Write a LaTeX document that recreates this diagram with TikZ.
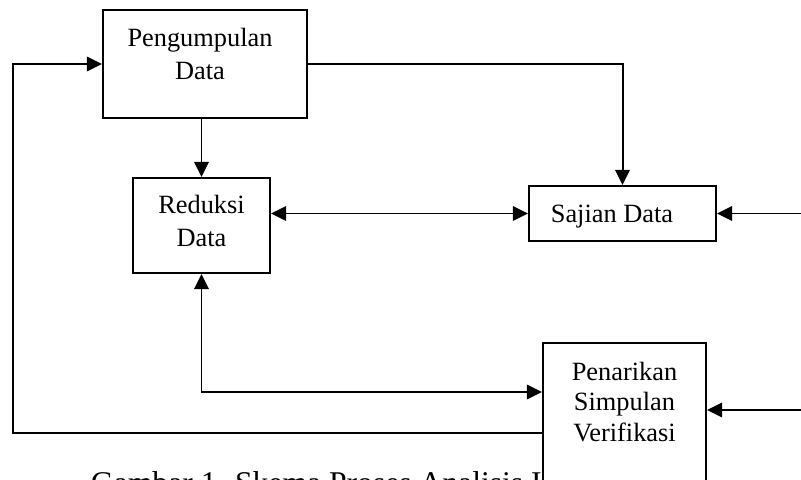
\documentclass[tikz,border=0pt]{standalone}
\usepackage{fontspec}
\setmainfont{Liberation Serif}
\usetikzlibrary{arrows.meta,positioning}

\def\satuan{0.03cm}

\begin{document}
\begin{tikzpicture}[>={Triangle[length=13pt,width=12.5pt]}, x=\satuan, y=-\satuan, line width=1.7pt,
		kotak/.style={draw, fill=white, inner sep=0pt},
		teks/.style={align=center, inner sep=0pt, font=\fontsize{22.5}{28.5}\selectfont}]

				% Frame of the page
				\useasboundingbox (0,0) rectangle (801,480);

				% Caption (partly hidden by the last box)
				\node[anchor=base west, inner sep=0pt, font=\fontsize{27}{32}\selectfont] (judul) at (90,493) {Gambar 1. Skema Proses Analisis I};

				% Boxes
				\node[kotak, minimum width=204*\satuan, minimum height=108*\satuan] (pd) at (205,64) {};
				\node[kotak, minimum width=137*\satuan, minimum height=95*\satuan] (rd) at (201.5,225.5) {};
				\node[kotak, minimum width=187*\satuan, minimum height=55*\satuan] (sj) at (622.5,213.5) {};
				\node[kotak, minimum width=163*\satuan, minimum height=180*\satuan] (pk) at (624.5,433) {};

				% Box texts
				\node[teks, anchor=north] (tpd) at (200,27) {Pengumpulan\\Data};
				\node[teks, anchor=north] (trd) at (201.5,194) {Reduksi\\Data};
				\node[teks, anchor=base] (tsj) at (612,223) {Sajian Data};
				\node[teks, anchor=north, font=\fontsize{22.5}{26}\selectfont] (tpk) at (624.5,361) {Penarikan\\Simpulan\\Verifikasi};

				% Connectors
				\draw[->] (pk.west) -| ([xshift=-2.67cm]pd.west) -- (pd.west);
				\draw[->] (pd.east) -| (sj.north);
				\draw[->] (rd.north |- pd.south) -- (rd.north);
				\draw[<->] (rd.east |- sj.west) -- (sj.west);
				\draw[<-] (sj.east) -- ++(3cm,0);
				\draw[<->] (rd.south) |- ([yshift=1.23cm]pk.west);
				\draw[<-] ([yshift=0.69cm]pk.east) -- ++(3cm,0);
			\end{tikzpicture}
\end{document}
